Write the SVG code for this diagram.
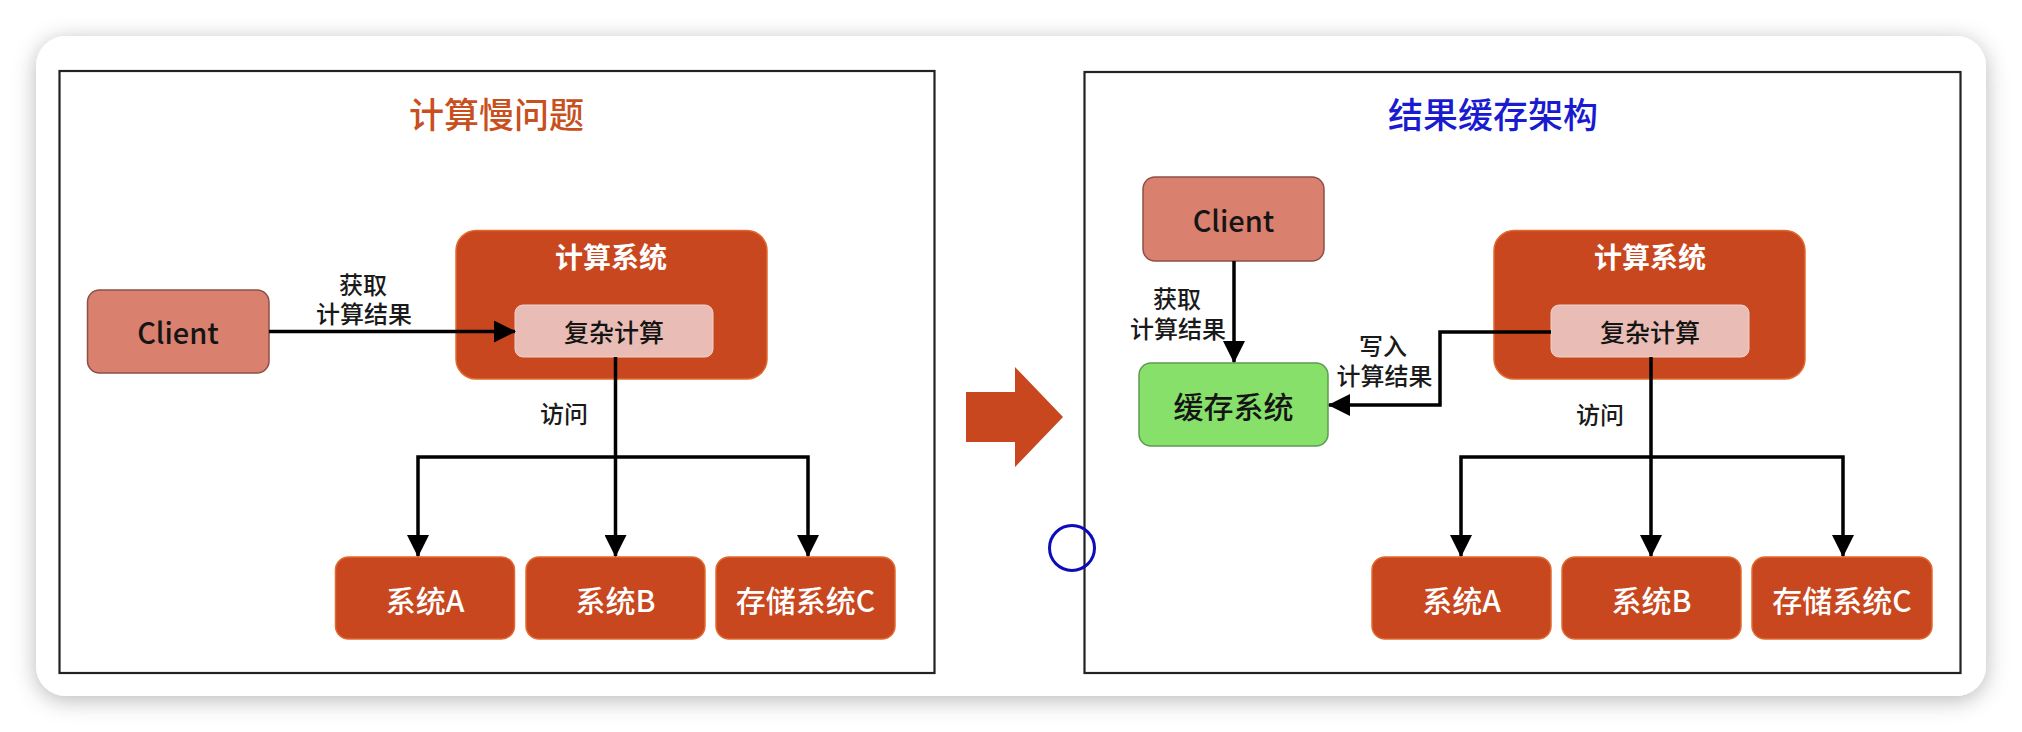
<svg xmlns="http://www.w3.org/2000/svg" width="2022" height="732" viewBox="0 0 2022 732">
<style>
text{font-family:"Noto Sans CJK SC","Liberation Sans",sans-serif;text-anchor:middle;dominant-baseline:central;font-weight:500}
.panel{fill:#ffffff;stroke:#222222;stroke-width:2.2}
.client{fill:#d9806f;stroke:#8c5046;stroke-width:1.5}
.sys{fill:#c8471f;stroke:#e2692e;stroke-width:1.5}
.inner{fill:#e9bdb6;stroke:#f0d0ca;stroke-width:1}
.cache{fill:#86e06a;stroke:#5e9a50;stroke-width:1.5}
.conn{fill:none;stroke:#000000;stroke-width:3.5;marker-end:url(#arr)}
.lbl{font-size:24px;fill:#1a1a1a}
.wt{fill:#ffffff;font-size:30px}
.hd{fill:#ffffff;font-size:28px;font-weight:bold}
.dk{fill:#151515}
</style>
<defs>
<marker id="arr" markerUnits="userSpaceOnUse" markerWidth="22" markerHeight="22" viewBox="0 0 22 22" refX="21" refY="11" orient="auto">
<path d="M0,0 L22,11 L0,22 Z" fill="#000000"/>
</marker>
<filter id="sh" x="-5%" y="-10%" width="110%" height="125%">
<feDropShadow dx="0" dy="4" stdDeviation="11" flood-color="#000000" flood-opacity="0.28"/>
</filter>
</defs>
<rect x="0" y="0" width="2022" height="732" fill="#ffffff"/>
<rect id="card" x="36" y="36" width="1950" height="660" rx="30" fill="#ffffff" filter="url(#sh)"/>

<g id="left-panel">
<rect class="panel" x="59.5" y="71" width="875" height="602"/>
<text x="496.5" y="112" font-size="35" fill="#c8501e">计算慢问题</text>
</g>
<g id="right-panel">
<rect class="panel" x="1084.5" y="72" width="876" height="601"/>
<text x="1493" y="112" font-size="35" fill="#1a1ad0">结果缓存架构</text>
</g>

<g id="big-arrow">
<polygon points="966,392 1015,392 1015,367 1063,417 1015,467 1015,442 966,442" fill="#c8471f"/>
</g>
<g id="marker-circle">
<circle cx="1072" cy="548" r="22.5" fill="none" stroke="#0c0cb8" stroke-width="3"/>
</g>

<g id="l-client">
<rect class="client" x="87.5" y="290" width="181.5" height="83" rx="12"/>
<text class="dk" x="178" y="331" font-size="29">Client</text>
</g>
<g id="l-compute">
<rect class="sys" x="456" y="230.5" width="311" height="148.5" rx="20"/>
<text class="hd" x="611" y="256">计算系统</text>
</g>
<g id="l-complex">
<rect class="inner" x="515" y="305" width="198" height="52" rx="8"/>
<text class="dk" x="614" y="331" font-size="25">复杂计算</text>
</g>
<g id="l-sysA">
<rect class="sys" x="335.5" y="557" width="179" height="82" rx="13"/>
<text class="wt" x="425" y="599">系统A</text>
</g>
<g id="l-sysB">
<rect class="sys" x="526" y="557" width="179" height="82" rx="13"/>
<text class="wt" x="615.5" y="599">系统B</text>
</g>
<g id="l-sysC">
<rect class="sys" x="716" y="557" width="179" height="82" rx="13"/>
<text class="wt" x="805.5" y="599">存储系统C</text>
</g>

<g id="r-client">
<rect class="client" x="1143" y="177" width="181" height="84" rx="12"/>
<text class="dk" x="1233.5" y="219" font-size="29">Client</text>
</g>
<g id="r-cache">
<rect class="cache" x="1139" y="363" width="189" height="83" rx="12"/>
<text class="dk" x="1233.5" y="405" font-size="30">缓存系统</text>
</g>
<g id="r-compute">
<rect class="sys" x="1494" y="230.5" width="311" height="148.5" rx="20"/>
<text class="hd" x="1650" y="256">计算系统</text>
</g>
<g id="r-complex">
<rect class="inner" x="1551" y="305" width="198" height="52" rx="8"/>
<text class="dk" x="1650" y="331" font-size="25">复杂计算</text>
</g>
<g id="r-sysA">
<rect class="sys" x="1372" y="557" width="179" height="82" rx="13"/>
<text class="wt" x="1461.5" y="599">系统A</text>
</g>
<g id="r-sysB">
<rect class="sys" x="1562" y="557" width="179" height="82" rx="13"/>
<text class="wt" x="1651.5" y="599">系统B</text>
</g>
<g id="r-sysC">
<rect class="sys" x="1752" y="557" width="180" height="82" rx="13"/>
<text class="wt" x="1842" y="599">存储系统C</text>
</g>

<g id="connectors">
<path class="conn" d="M269,331.5 H515"/>
<path class="conn" d="M615.5,357 V556"/>
<path class="conn" d="M615.5,457 H418 V556"/>
<path class="conn" d="M615.5,457 H808 V556"/>
<path class="conn" d="M1234,261 V362"/>
<path class="conn" d="M1551,332 H1440 V405 H1329"/>
<path class="conn" d="M1651,357 V556"/>
<path class="conn" d="M1651,457 H1461 V556"/>
<path class="conn" d="M1651,457 H1843 V556"/>
<text class="lbl"><tspan x="363" y="283">获取</tspan><tspan x="364" y="312">计算结果</tspan></text>
<text class="lbl" x="564" y="412">访问</text>
<text class="lbl"><tspan x="1177" y="297">获取</tspan><tspan x="1178" y="327">计算结果</tspan></text>
<text class="lbl"><tspan x="1383" y="344">写入</tspan><tspan x="1384.5" y="374">计算结果</tspan></text>
<text class="lbl" x="1600" y="413">访问</text>
</g>
</svg>
